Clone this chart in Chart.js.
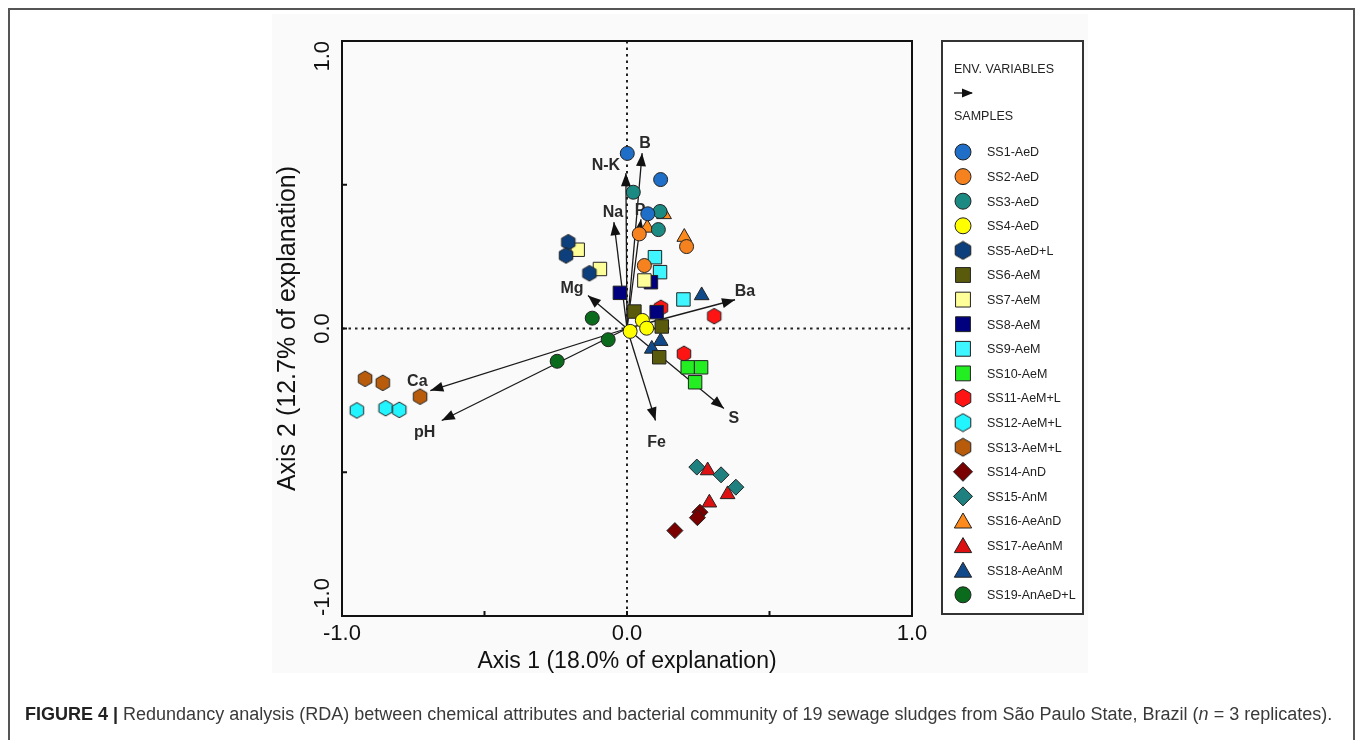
<!DOCTYPE html>
<html>
<head>
<meta charset="utf-8">
<script src="https://cdn.jsdelivr.net/npm/chart.js@4.4.0/dist/chart.umd.min.js"></script>
<style>
html, body { margin: 0; padding: 0; background: #fff; overflow: hidden; }
#frame { position: absolute; left: 8px; top: 8px; width: 1347px; height: 800px; border: 2px solid #555; box-sizing: border-box; }
#figbg { position: absolute; left: 272px; top: 14px; width: 816px; height: 659px; background: #fafafa; }
#wrap { position: absolute; left: 0; top: 0; width: 1358px; height: 740px; }
#caption { position: absolute; left: 25px; top: 704px; font-family: "Liberation Sans", Arial, sans-serif; font-size: 18px; color: #3a3a3a; white-space: nowrap; }
#caption b { color: #222; }
</style>
</head>
<body>
<div id="frame"></div>
<div id="figbg"></div>
<div id="wrap"><canvas id="rdaChart" width="1358" height="740"></canvas></div>
<div id="caption"><b>FIGURE 4 |</b> Redundancy analysis (RDA) between chemical attributes and bacterial community of 19 sewage sludges from São Paulo State, Brazil (<i>n</i> = 3 replicates).</div>

<script>
// ---- data ----
const sampleNames = [
    'SS1-AeD', 'SS2-AeD', 'SS3-AeD', 'SS4-AeD', 'SS5-AeD+L', 'SS6-AeM', 'SS7-AeM',
    'SS8-AeM', 'SS9-AeM', 'SS10-AeM', 'SS11-AeM+L', 'SS12-AeM+L', 'SS13-AeM+L',
    'SS14-AnD', 'SS15-AnM', 'SS16-AeAnD', 'SS17-AeAnM', 'SS18-AeAnM', 'SS19-AnAeD+L'
];

// axis 1 / axis 2 scores, three replicates per sludge
const sampleScores = [
    [[0.001, 0.609], [0.118, 0.518], [0.073, 0.399]],
    [[0.043, 0.329], [0.209, 0.285], [0.061, 0.219]],
    [[0.022, 0.474], [0.116, 0.407], [0.110, 0.344]],
    [[0.054, 0.028], [0.069, 0.001], [0.011, -0.010]],
    [[-0.206, 0.300], [-0.214, 0.254], [-0.132, 0.192]],
    [[0.026, 0.059], [0.122, 0.007], [0.113, -0.100]],
    [[-0.173, 0.274], [-0.095, 0.207], [0.061, 0.167]],
    [[0.084, 0.161], [-0.025, 0.124], [0.104, 0.057]],
    [[0.098, 0.248], [0.116, 0.196], [0.198, 0.101]],
    [[0.213, -0.135], [0.260, -0.135], [0.239, -0.187]],
    [[0.119, 0.072], [0.306, 0.043], [0.200, -0.088]],
    [[-0.948, -0.285], [-0.847, -0.277], [-0.799, -0.283]],
    [[-0.919, -0.175], [-0.857, -0.189], [-0.726, -0.237]],
    [[0.256, -0.639], [0.247, -0.658], [0.168, -0.703]],
    [[0.245, -0.482], [0.330, -0.509], [0.382, -0.552]],
    [[0.130, 0.397], [0.071, 0.350], [0.201, 0.318]],
    [[0.283, -0.494], [0.353, -0.577], [0.289, -0.606]],
    [[0.262, 0.115], [0.118, -0.044], [0.087, -0.071]],
    [[-0.122, 0.036], [-0.066, -0.039], [-0.245, -0.114]]
];

const envNames = ['B', 'N-K', 'Na', 'P', 'Mg', 'Ba', 'Ca', 'pH', 'Fe', 'S'];
const envAxis1 = [0.053, -0.004, -0.046, 0.049, -0.137, 0.379, -0.690, -0.650, 0.100, 0.340];
const envAxis2 = [0.610, 0.540, 0.370, 0.380, 0.115, 0.100, -0.216, -0.320, -0.320, -0.278];

const axisTicks = [-1, -0.5, 0, 0.5, 1];
const labeledTicks = [-1, 0, 1];

// ---- styles ----
const sampleColors = [
    '#1f6fc9', '#f5821f', '#1b8a83', '#ffff00', '#0d3f7c', '#5a5a0c', '#ffff99',
    '#00007f', '#3ff5ff', '#22ee22', '#ff1414', '#22f5ff', '#b85c0c',
    '#7a0000', '#1f8080', '#ff8a1c', '#dd1111', '#114a8a', '#0b6b1c'
];
const sampleShapes = [
    'circle', 'circle', 'circle', 'circle', 'hex', 'rect', 'rect',
    'rect', 'rect', 'rect', 'hex', 'hex', 'hex',
    'rectRot', 'rectRot', 'triangle', 'triangle', 'triangle', 'circle'
];
// label offsets from arrow tips, in pixels
const envLabelOffset = [[3, -10], [-20, -8], [-1, -10], [-1, -9], [-16, -7], [10, -8], [-13, -9], [-17, 12], [1, 22], [10, 10]];

const FONT = '"Liberation Sans", Arial, sans-serif';
const EDGE = '#222';

function hexagon(color, r) {
    const c = document.createElement('canvas');
    const s = Math.ceil(r * 2 + 2);
    c.width = s; c.height = s;
    const g = c.getContext('2d');
    g.beginPath();
    for (let k = 0; k < 6; k++) {
        const a = -Math.PI / 2 + k * Math.PI / 3;
        const px = s / 2 + r * Math.cos(a), py = s / 2 + r * Math.sin(a);
        k ? g.lineTo(px, py) : g.moveTo(px, py);
    }
    g.closePath();
    g.fillStyle = color; g.fill();
    g.lineWidth = 1; g.strokeStyle = EDGE; g.stroke();
    return c;
}

const pointRadius = { circle: 7, rect: 9.5, rectRot: 8, triangle: 8.5 };

function styleFor(i, big) {
    const shape = sampleShapes[i];
    if (shape === 'hex') return hexagon(sampleColors[i], big ? 9 : 7.8);
    return shape;
}

const datasets = sampleNames.map((name, i) => ({
    label: name,
    data: sampleScores[i].map(p => ({ x: p[0], y: p[1] })),
    pointStyle: styleFor(i, false),
    pointRadius: pointRadius[sampleShapes[i]] || 8,
    pointHoverRadius: pointRadius[sampleShapes[i]] || 8,
    backgroundColor: sampleColors[i],
    borderColor: EDGE,
    borderWidth: 1,
    showLine: false
}));

function drawMarker(ctx, shape, color, x, y, r) {
    ctx.save();
    ctx.fillStyle = color;
    ctx.strokeStyle = EDGE;
    ctx.lineWidth = 1;
    ctx.beginPath();
    if (shape === 'circle') {
        ctx.arc(x, y, r, 0, Math.PI * 2);
    } else if (shape === 'rect') {
        const h = r * Math.SQRT1_2;
        ctx.rect(x - h, y - h, 2 * h, 2 * h);
    } else if (shape === 'rectRot') {
        ctx.moveTo(x, y - r); ctx.lineTo(x + r, y); ctx.lineTo(x, y + r); ctx.lineTo(x - r, y);
        ctx.closePath();
    } else if (shape === 'triangle') {
        for (let k = 0; k < 3; k++) {
            const a = k * 2 * Math.PI / 3;
            const px = x + Math.sin(a) * r, py = y - Math.cos(a) * r;
            k ? ctx.lineTo(px, py) : ctx.moveTo(px, py);
        }
        ctx.closePath();
    }
    ctx.fill();
    ctx.stroke();
    ctx.restore();
}

function arrowHead(ctx, x0, y0, x1, y1, len, half) {
    const a = Math.atan2(y1 - y0, x1 - x0);
    ctx.beginPath();
    ctx.moveTo(x1, y1);
    ctx.lineTo(x1 - len * Math.cos(a) + half * Math.sin(a), y1 - len * Math.sin(a) - half * Math.cos(a));
    ctx.lineTo(x1 - len * Math.cos(a) - half * Math.sin(a), y1 - len * Math.sin(a) + half * Math.cos(a));
    ctx.closePath();
    ctx.fill();
}

// zero lines, env arrows and labels under the points
const biplotPlugin = {
    id: 'biplot',
    beforeDatasetsDraw(chart) {
        const { ctx, chartArea: a, scales: { x, y } } = chart;
        const x0 = x.getPixelForValue(0), y0 = y.getPixelForValue(0);
        ctx.save();
        ctx.strokeStyle = EDGE;
        ctx.lineWidth = 2;
        ctx.setLineDash([2.5, 4]);
        ctx.beginPath();
        ctx.moveTo(x0, a.top); ctx.lineTo(x0, a.bottom);
        ctx.moveTo(a.left, y0); ctx.lineTo(a.right, y0);
        ctx.stroke();
        ctx.setLineDash([]);

        ctx.strokeStyle = '#1a1a1a';
        ctx.fillStyle = '#111';
        ctx.lineWidth = 1.3;
        envNames.forEach((name, i) => {
            const tx = x.getPixelForValue(envAxis1[i]), ty = y.getPixelForValue(envAxis2[i]);
            ctx.beginPath();
            ctx.moveTo(x0, y0); ctx.lineTo(tx, ty);
            ctx.stroke();
            arrowHead(ctx, x0, y0, tx, ty, 13, 5);
        });
        ctx.font = 'bold 16px ' + FONT;
        ctx.fillStyle = '#2a2a2a';
        ctx.textAlign = 'center';
        ctx.textBaseline = 'middle';
        envNames.forEach((name, i) => {
            const tx = x.getPixelForValue(envAxis1[i]), ty = y.getPixelForValue(envAxis2[i]);
            ctx.fillText(name, tx + envLabelOffset[i][0], ty + envLabelOffset[i][1]);
        });
        ctx.restore();
    },
    afterDraw(chart) {
        const { ctx, chartArea: a, scales: { x, y } } = chart;
        ctx.save();
        // plot frame + inward ticks
        ctx.strokeStyle = '#111';
        ctx.lineWidth = 2;
        ctx.strokeRect(a.left, a.top, a.right - a.left, a.bottom - a.top);
        ctx.beginPath();
        axisTicks.forEach(v => {
            const px = x.getPixelForValue(v), py = y.getPixelForValue(v);
            ctx.moveTo(px, a.bottom); ctx.lineTo(px, a.bottom - 5);
            ctx.moveTo(a.left, py); ctx.lineTo(a.left + 5, py);
        });
        ctx.stroke();

        // rotated y tick labels
        ctx.fillStyle = '#111';
        ctx.font = '22px ' + FONT;
        ctx.textBaseline = 'middle';
        labeledTicks.forEach(v => {
            const py = y.getPixelForValue(v);
            ctx.save();
            ctx.translate(a.left - 19, py);
            ctx.rotate(-Math.PI / 2);
            ctx.textAlign = v > 0 ? 'right' : (v < 0 ? 'left' : 'center');
            ctx.fillText(v.toFixed(1), 0, 0);
            ctx.restore();
        });

        // legend box
        const lx = 942, ly = 41, lw = 141, lh = 573;
        ctx.fillStyle = '#fff';
        ctx.fillRect(lx, ly, lw, lh);
        ctx.strokeStyle = '#333';
        ctx.lineWidth = 2;
        ctx.strokeRect(lx, ly, lw, lh);
        ctx.fillStyle = '#222';
        ctx.font = '12.5px ' + FONT;
        ctx.textAlign = 'left';
        ctx.fillText('ENV. VARIABLES', 954, 70);
        ctx.strokeStyle = '#111';
        ctx.lineWidth = 1.3;
        ctx.beginPath(); ctx.moveTo(954, 93); ctx.lineTo(972, 93); ctx.stroke();
        ctx.fillStyle = '#111';
        arrowHead(ctx, 954, 93, 973, 93, 11, 4.5);
        ctx.fillStyle = '#222';
        ctx.fillText('SAMPLES', 954, 117);
        sampleNames.forEach((name, i) => {
            const cy = 152 + i * 24.6;
            const shape = sampleShapes[i];
            if (shape === 'hex') {
                const img = styleFor(i, true);
                ctx.drawImage(img, 963 - img.width / 2, cy - img.height / 2);
            } else {
                const r = { circle: 8, rect: 10.5, rectRot: 9.5, triangle: 10 }[shape];
                drawMarker(ctx, shape, sampleColors[i], 963, cy + (shape === 'triangle' ? 2 : 0), r);
            }
            ctx.fillStyle = '#222';
            ctx.fillText(name, 987, cy + 1);
        });
        ctx.restore();
    }
};

new Chart(document.getElementById('rdaChart').getContext('2d'), {
    type: 'scatter',
    data: { datasets: datasets },
    options: {
        responsive: false,
        animation: false,
        events: [],
        layout: { padding: { left: 270, top: 41, right: 446, bottom: 0 } },
        plugins: {
            legend: { display: false },
            tooltip: { enabled: false }
        },
        scales: {
            x: {
                type: 'linear',
                min: -1, max: 1,
                afterBuildTicks: s => { s.ticks = axisTicks.map(v => ({ value: v })); },
                ticks: {
                    autoSkip: false,
                    maxRotation: 0,
                    padding: 5,
                    color: '#111',
                    font: { family: FONT, size: 22 },
                    callback: v => labeledTicks.includes(v) ? v.toFixed(1) : ''
                },
                grid: { display: false, drawTicks: false, tickLength: 0 },
                border: { display: false },
                title: {
                    display: true,
                    text: 'Axis 1 (18.0% of explanation)',
                    color: '#111',
                    font: { family: FONT, size: 23 },
                    padding: { top: 0, bottom: 65 }
                },
                afterFit: s => { s.height = 124; }
            },
            y: {
                type: 'linear',
                min: -1, max: 1,
                afterBuildTicks: s => { s.ticks = axisTicks.map(v => ({ value: v })); },
                ticks: { display: false },
                grid: { display: false, drawTicks: false, tickLength: 0 },
                border: { display: false },
                title: {
                    display: true,
                    text: 'Axis 2 (12.7% of explanation)',
                    color: '#111',
                    font: { family: FONT, size: 25 },
                    padding: { top: 3, bottom: 0 }
                },
                afterFit: s => { s.width = 72; }
            }
        }
    },
    plugins: [biplotPlugin]
});
</script>
</body>
</html>
